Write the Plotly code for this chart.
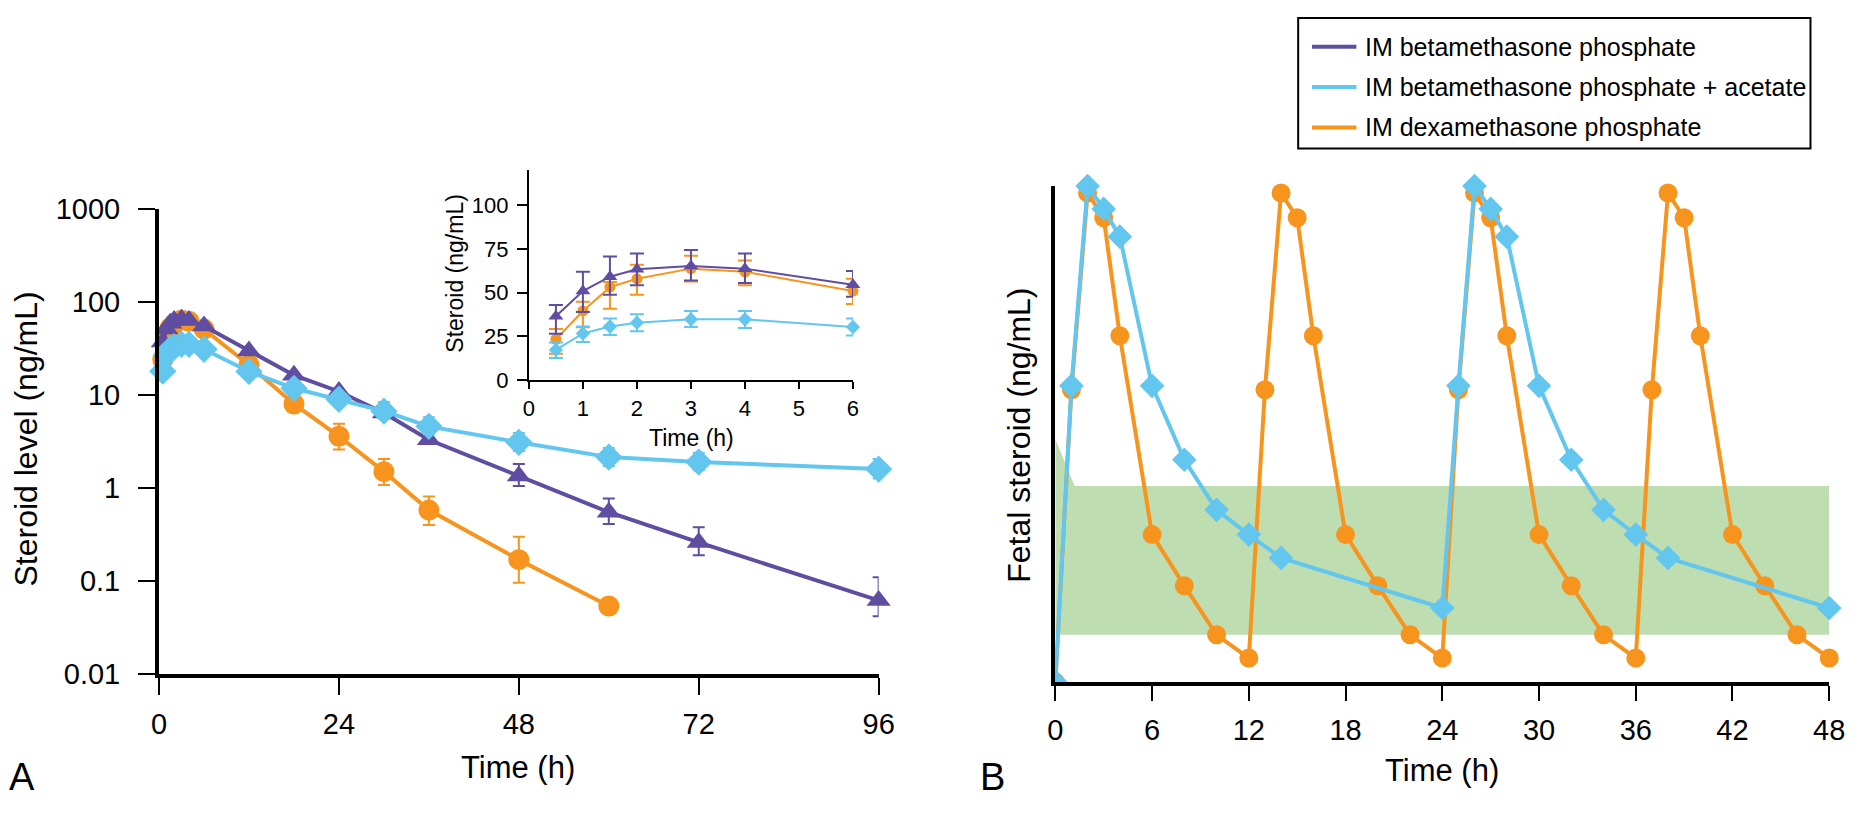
import plotly.graph_objects as go

W, H = 1863, 817

# ---------------- Panel A data (maternal steroid, log scale) ----------------
time_a = [0.5, 1, 1.5, 2, 3, 4, 6, 12, 18, 24, 30, 36, 48, 60, 72, 96]
beta_phos = [37, 51, 59, 63, 65, 63, 55, 29.6, 16.3, 10.9, 6.4, 3.3, 1.35, 0.55, 0.26, 0.062]
beta_phos_lo = [37, 51, 59, 63, 65, 63, 55, 29.6, 16.3, 10.9, 6.4, 3.3, 1.05, 0.41, 0.19, 0.042]
beta_phos_hi = [37, 51, 59, 63, 65, 63, 55, 29.6, 16.3, 10.9, 6.4, 3.3, 1.81, 0.77, 0.38, 0.11]

beta_ac = [18, 27, 31, 33, 35, 35, 31, 17.9, 11.8, 9.0, 6.7, 4.6, 3.1, 2.15, 1.9, 1.6]
beta_ac_lo = [18, 27, 31, 33, 35, 35, 31, 17.9, 11.8, 9.0, 5.6, 3.8, 2.5, 1.73, 1.55, 1.27]
beta_ac_hi = [18, 27, 31, 33, 35, 35, 31, 17.9, 11.8, 9.0, 8.4, 5.75, 3.9, 2.7, 2.4, 2.05]

time_dex = [0.5, 1, 1.5, 2, 3, 4, 6, 12, 18, 24, 30, 36, 48, 60]
dex_phos = [24, 40, 53, 58, 64, 62, 51, 21, 8.0, 3.6, 1.5, 0.58, 0.17, 0.054]
dex_phos_lo = [24, 40, 53, 58, 64, 62, 51, 21, 8.0, 2.6, 1.08, 0.40, 0.096, 0.054]
dex_phos_hi = [24, 40, 53, 58, 64, 62, 51, 21, 8.0, 4.9, 2.05, 0.81, 0.30, 0.054]

a_xticks = [0, 24, 48, 72, 96]
a_yticks = [0.01, 0.1, 1, 10, 100, 1000]
a_yticktext = ["0.01", "0.1", "1", "10", "100", "1000"]

# ---------------- Inset data (first 6 h, linear) ----------------
time_in = [0.5, 1, 1.5, 2, 3, 4, 6]
in_beta_phos = [36.6, 51, 59.2, 63.5, 65.3, 63.8, 54.6]
in_beta_phos_lo = [26.5, 39, 48.8, 54.3, 57, 55.6, 47.7]
in_beta_phos_hi = [43, 62, 70.7, 72.5, 74.5, 72.5, 62.4]
in_dex = [23.4, 39.6, 53.2, 58, 63.8, 62, 51]
in_dex_lo = [15.1, 30.2, 40.8, 48.8, 56.5, 54.3, 43.6]
in_dex_hi = [29.3, 44.9, 56.1, 66, 71.2, 68.4, 58]
in_beta_ac = [17.3, 26.7, 30.7, 32.9, 34.8, 34.8, 30.4]
in_beta_ac_lo = [12.7, 21.9, 25.8, 28, 30.4, 29.8, 25.6]
in_beta_ac_hi = [21.5, 30.7, 35.3, 37.7, 39.6, 39.6, 35.3]
in_xticks = [0, 1, 2, 3, 4, 5, 6]
in_yticks = [0, 25, 50, 75, 100]

# ---------------- Panel B data (fetal steroid, arbitrary linear units) ----------------
time_b_ac = [0, 1, 2, 3, 4, 6, 8, 10, 12, 14, 24, 25, 26, 27, 28, 30, 32, 34, 36, 38, 48]
fetal_ac = [0, 59.7, 100, 95.4, 89.8, 59.7, 44.8, 34.7, 29.7, 25.0, 14.9,
            59.7, 100, 95.4, 89.8, 59.7, 44.8, 34.7, 29.7, 25.0, 14.9]
time_b_dex = [0, 1, 2, 3, 4, 6, 8, 10, 12, 13, 14, 15, 16, 18, 20, 22, 24,
              25, 26, 27, 28, 30, 32, 34, 36, 37, 38, 39, 40, 42, 44, 46, 48]
fetal_dex = [0, 58.9, 98.6, 93.6, 69.8, 29.7, 19.4, 9.5, 4.8,
             58.9, 98.6, 93.6, 69.8, 29.7, 19.4, 9.5, 4.8,
             58.9, 98.6, 93.6, 69.8, 29.7, 19.4, 9.5, 4.8,
             58.9, 98.6, 93.6, 69.8, 29.7, 19.4, 9.5, 4.8]
band_time = [0, 1.2, 48, 48, 0]
band_level = [49.0, 39.5, 39.5, 9.5, 9.5]
b_xticks = [0, 6, 12, 18, 24, 30, 36, 42, 48]

legend_labels = ["IM betamethasone phosphate",
                 "IM betamethasone phosphate + acetate",
                 "IM dexamethasone phosphate"]

# ---------------- styling ----------------
PURPLE = "#5E4DA0"
BLUE = "#62C6EE"
ORANGE = "#F7941E"
GREEN = "#BEDDB0"
SANS = "Liberation Sans, Arial, Helvetica, sans-serif"


def fx(px):
    return px / W


def fy(py):
    return 1 - py / H


def errs(v, lo, hi):
    return dict(type="data", symmetric=False,
                array=[h - m for m, h in zip(v, hi)],
                arrayminus=[m - l for m, l in zip(v, lo)])


fig = go.Figure()

# ---- Panel A main ----
def main_trace(t, v, lo, hi, color, symbol, size):
    e = errs(v, lo, hi)
    e.update(color=color, thickness=2, width=6)
    return go.Scatter(x=t, y=v, mode="lines+markers", xaxis="x", yaxis="y",
                      line=dict(color=color, width=4),
                      marker=dict(color=color, symbol=symbol, size=size),
                      error_y=e, cliponaxis=False, showlegend=False)


fig.add_trace(main_trace(time_dex, dex_phos, dex_phos_lo, dex_phos_hi, ORANGE, "circle", 21))
fig.add_trace(main_trace(time_a, beta_phos, beta_phos_lo, beta_phos_hi, PURPLE, "triangle-up", 21))
fig.add_trace(main_trace(time_a, beta_ac, beta_ac_lo, beta_ac_hi, BLUE, "diamond", 21))

# ---- Inset ----
def inset_trace(t, v, lo, hi, color, symbol, size):
    e = errs(v, lo, hi)
    e.update(color=color, thickness=2, width=7)
    return go.Scatter(x=t, y=v, mode="lines+markers", xaxis="x2", yaxis="y2",
                      line=dict(color=color, width=2),
                      marker=dict(color=color, symbol=symbol, size=size),
                      error_y=e, cliponaxis=False, showlegend=False)


fig.add_trace(inset_trace(time_in, in_dex, in_dex_lo, in_dex_hi, ORANGE, "circle", 11))
fig.add_trace(inset_trace(time_in, in_beta_phos, in_beta_phos_lo, in_beta_phos_hi, PURPLE, "triangle-up", 13))
fig.add_trace(inset_trace(time_in, in_beta_ac, in_beta_ac_lo, in_beta_ac_hi, BLUE, "diamond", 11))

# ---- Panel B ----
fig.add_trace(go.Scatter(x=band_time, y=band_level, xaxis="x3", yaxis="y3",
                         fill="toself", fillcolor=GREEN, mode="lines",
                         line=dict(width=0, color=GREEN), showlegend=False,
                         hoverinfo="skip"))


def b_traces(t, v, color, symbol, size):
    out = [go.Scatter(x=t, y=v, mode="lines", xaxis="x3", yaxis="y3",
                      line=dict(color=color, width=4), showlegend=False)]
    tp = [a for a, b in zip(t, v) if b > 0]
    vp = [b for b in v if b > 0]
    t0 = [a for a, b in zip(t, v) if b <= 0]
    v0 = [b for b in v if b <= 0]
    out.append(go.Scatter(x=tp, y=vp, mode="markers", xaxis="x3", yaxis="y3",
                          marker=dict(color=color, symbol=symbol, size=size),
                          cliponaxis=False, showlegend=False))
    out.append(go.Scatter(x=t0, y=v0, mode="markers", xaxis="x3", yaxis="y3",
                          marker=dict(color=color, symbol=symbol, size=size),
                          cliponaxis=True, showlegend=False))
    return out


for tr in b_traces(time_b_dex, fetal_dex, ORANGE, "circle", 19):
    fig.add_trace(tr)
for tr in b_traces(time_b_ac, fetal_ac, BLUE, "diamond", 19):
    fig.add_trace(tr)

# ---------------- axes ----------------
axis_common = dict(showgrid=False, zeroline=False, showline=True, linecolor="black",
                   ticks="outside", tickcolor="black", fixedrange=True)

fig.update_layout(
    width=W, height=H, autosize=False,
    margin=dict(l=0, r=0, t=0, b=0),
    paper_bgcolor="white", plot_bgcolor="rgba(0,0,0,0)",
    showlegend=False,
    xaxis=dict(axis_common, domain=[fx(153), fx(882)], range=[0, 96],
               tickvals=a_xticks, ticklen=17, tickwidth=2, linewidth=4,
               tickfont=dict(family=SANS, size=29, color="black"),
               ticklabelstandoff=4, anchor="y"),
    yaxis=dict(axis_common, domain=[fy(685), fy(200.7)], type="log", range=[-2, 3],
               tickvals=a_yticks, ticktext=a_yticktext, ticklen=17, tickwidth=2,
               linewidth=4, tickfont=dict(family=SANS, size=29, color="black"),
               ticklabelstandoff=12, anchor="x"),
    xaxis2=dict(axis_common, domain=[fx(527.7), fx(856)], range=[0, 6],
                tickvals=in_xticks, ticklen=7, tickwidth=2, linewidth=2,
                tickfont=dict(family=SANS, size=22, color="black"), anchor="y2"),
    yaxis2=dict(axis_common, domain=[fy(379), fy(160.7)], range=[0, 120],
                tickvals=in_yticks, ticklen=10, tickwidth=2, linewidth=2,
                tickfont=dict(family=SANS, size=22, color="black"),
                ticklabelstandoff=4, anchor="x2"),
    xaxis3=dict(axis_common, domain=[fx(1061), fx(1845)], range=[0, 48],
                tickvals=b_xticks, ticklen=15, tickwidth=2, linewidth=4,
                tickfont=dict(family=SANS, size=29, color="black"),
                ticklabelstandoff=4, anchor="y3"),
    yaxis3=dict(axis_common, domain=[fy(693), fy(177)], range=[0, 100],
                ticks="", showticklabels=False, linewidth=4, anchor="x3"),
)

# ---------------- text ----------------
ann = []


def text(s, x, y, size, family, angle=0, xanchor="center", yanchor="middle"):
    ann.append(dict(text=s, x=fx(x), y=fy(y), xref="paper", yref="paper",
                    showarrow=False, textangle=angle, xanchor=xanchor,
                    yanchor=yanchor, font=dict(family=family, size=size, color="black")))


text("Steroid level (ng/mL)", 18, 440, 32, SANS, angle=-90)
text("Time (h)", 517, 782, 31, SANS)
text("A", 14, 792, 38, SANS)
text("Steroid (ng/mL)", 452, 268, 23, SANS, angle=-90)
text("Time (h)", 692, 439, 23, SANS)
text("Fetal steroid (ng/mL)", 1024, 436, 32, SANS, angle=-90)
text("Time (h)", 1453, 785, 31, SANS)
text("B", 997, 792, 38, SANS)

# manual legend
shapes = [dict(type="rect", xref="paper", yref="paper", x0=fx(1307), x1=fx(1826),
               y0=fy(138), y1=fy(2), line=dict(color="black", width=2))]
for lab, col, yy in zip(legend_labels, [PURPLE, BLUE, ORANGE], [32, 74, 116]):
    shapes.append(dict(type="line", xref="paper", yref="paper", x0=fx(1321), x1=fx(1366),
                       y0=fy(yy), y1=fy(yy), line=dict(color=col, width=4)))
    text(lab, 1373, yy, 25, SANS, xanchor="left")

fig.update_layout(annotations=ann, shapes=shapes)

fig.write_html("out.html", config={"displayModeBar": False},
               post_script="document.body.style.margin='0';")
